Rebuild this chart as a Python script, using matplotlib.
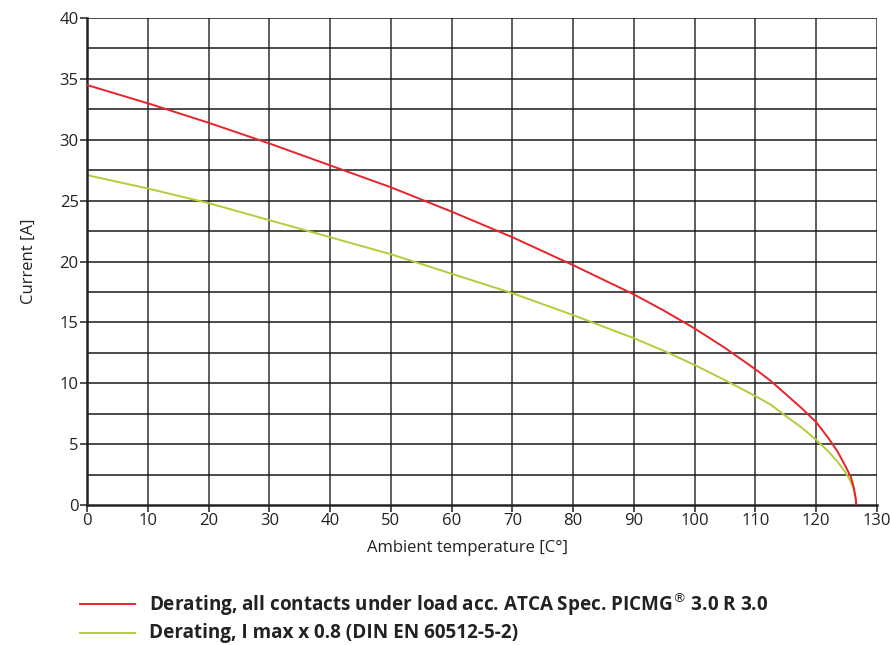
import numpy as np
import matplotlib.pyplot as plt
from matplotlib.lines import Line2D

temp_red = [0, 10, 20, 30, 40, 50, 60, 70, 80, 90, 95, 100, 105, 110, 112.5, 115, 117.5, 120,
            122, 123.5, 124.8, 125.7, 126.2, 126.5, 126.6]
current_red = [34.5, 33.0, 31.4, 29.7, 27.9, 26.1, 24.1, 22.0, 19.7, 17.3, 15.95, 14.5, 12.9, 11.15, 10.2, 9.1, 8.0, 6.8,
               5.5, 4.4, 3.2, 2.3, 1.4, 0.5, 0.0]

temp_green = [0, 10, 20, 30, 40, 50, 60, 70, 80, 90, 95, 100, 105, 110, 112.5, 115, 117.5, 120,
              122, 123.5, 124.8, 125.7, 126.2, 126.5, 126.6]
current_green = [27.1, 26.0, 24.8, 23.4, 22.0, 20.6, 19.0, 17.4, 15.6, 13.7, 12.65, 11.5, 10.25, 8.95, 8.25, 7.3, 6.4, 5.35,
                 4.4, 3.55, 2.7, 1.9, 1.2, 0.5, 0.0]

x_ticks = list(range(0, 131, 10))
y_ticks = list(range(0, 41, 5))

label_red = r"Derating, all contacts under load acc. ATCA Spec. PICMG$^{\circledR}$ 3.0 R 3.0"
label_green = "Derating, I max x 0.8 (DIN EN 60512-5-2)"
red = '#e8232b'
green = '#b3cd3a'

plt.rcParams['font.family'] = ['Open Sans', 'DejaVu Sans']

fig = plt.figure(figsize=(8.9, 6.45), dpi=100)
ax = fig.add_axes([0.0978, 0.217, 0.8876, 0.755])

# grid
for xv in x_ticks[1:]:
    ax.axvline(xv, color='#333333', linewidth=1.1, zorder=1)
for yv in np.arange(2.5, 40.1, 2.5):
    ax.axhline(yv, color='#1a1a1a', linewidth=1.1, zorder=1)

ax.plot(temp_red, current_red, color=red, linewidth=1.4, zorder=3)
ax.plot(temp_green, current_green, color=green, linewidth=1.4, zorder=2)

ax.set_xlim(0, 130)
ax.set_ylim(0, 40)
ax.set_xticks(x_ticks)
ax.set_yticks(y_ticks)
ax.tick_params(axis='both', labelsize=12, colors='#222222', length=5, width=1.1, pad=1)

for s in ['top', 'right']:
    ax.spines[s].set_visible(False)
for s in ['left', 'bottom']:
    ax.spines[s].set_linewidth(1.8)
    ax.spines[s].set_color('#222222')

ax.set_xlabel('Ambient temperature [C°]', fontsize=12, color='#222222')
ax.set_ylabel('Current [A]', fontsize=12, color='#222222')
ax.xaxis.set_label_coords(0.481, -0.072)
ax.yaxis.set_label_coords(-0.064, 0.5)

# legend below the chart
fig.add_artist(Line2D([80 / 890, 135 / 890], [1 - 604 / 645] * 2, color=red, linewidth=1.4))
fig.add_artist(Line2D([80 / 890, 135 / 890], [1 - 633 / 645] * 2, color=green, linewidth=1.4))
fig.text(149 / 890, 1 - 604 / 645, label_red, fontsize=13.6, fontweight='bold',
         color='#222222', va='center', ha='left')
fig.text(149 / 890, 1 - 633 / 645, label_green, fontsize=13.6, fontweight='bold',
         color='#222222', va='center', ha='left')

fig.savefig('out.png', dpi=100)
